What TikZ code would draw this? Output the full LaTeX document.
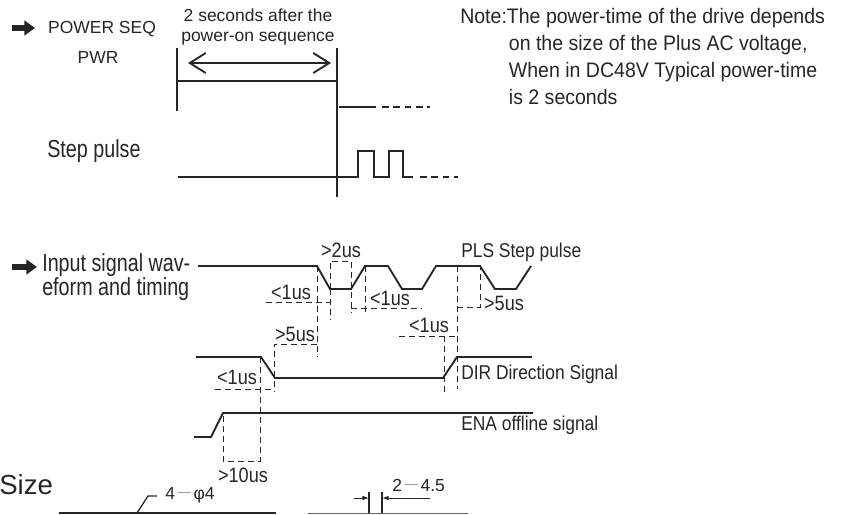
\documentclass[tikz,border=0pt]{standalone}
\usepackage{fontspec}
\setmainfont{Liberation Sans}
\newfontfamily\condfont[FakeStretch=0.87]{Liberation Sans}
\newfontfamily\narrowfont[FakeStretch=0.8]{Liberation Sans}
\newfontfamily\notefont[FakeStretch=0.93]{Liberation Sans}
\newcommand{\dashmark}{\hspace{2pt}\raisebox{1.8pt}{\textcolor{black!45}{\fontsize{10}{10}\selectfont —}}\hspace{2pt}}
\usetikzlibrary{arrows.meta}
\begin{document}
\begin{tikzpicture}
	  [
	    x                       = 0.75pt,
	    y                       = -0.75pt,
	    every node/.style       = {inner sep=0pt, text=black!85},
	    wave/.style             = {draw=black!85, line width=1.4pt},
	    guide/.style            = {draw=black!85, line width=0.7pt, dash pattern=on 4.5pt off 3pt},
	    wave tail/.style        = {draw=black!85, line width=1.1pt, dash pattern=on 5pt off 3.5pt},
	    plain label/.style      = {font=\fontsize{13.1}{14.5}\selectfont},
	    time label/.style       = {font=\condfont\fontsize{15.6}{17}\selectfont},
	    signal label/.style     = {font=\condfont\fontsize{15}{17}\selectfont},
	    big label/.style        = {font=\narrowfont\fontsize{18.5}{17.6}\selectfont},
	    block arrow/.style      = {draw=black!85, line width=5pt, -{Triangle[length=8pt,width=11pt]}}
		]
	  \useasboundingbox (0,0) rectangle (845,514);

	  \draw [block arrow] (12,28) -- (35,28);
	  \node [plain label] (power) at (102,29) {POWER SEQ};
	  \node [plain label] (pwr) at (98,57) {PWR};
	  \node [plain label, align=center] (after) at (258,27) {2 seconds after the\\power-on sequence};
	  \node [big label, anchor=west] (step) at (47,151) {Step pulse};
	  \node [align=left, anchor=north west, font=\notefont\fontsize{15.75}{20.25}\selectfont] (note) at (460,8)
	  	{Note:The power-time of the drive depends\\
	  	\hspace*{36.5pt}on the size of the Plus AC voltage,\\
	  	\hspace*{36.5pt}When in DC48V Typical power-time\\
	  	\hspace*{36.5pt}is 2 seconds};

	  \draw [wave] (177,48) -- (177,111);
	  \draw [wave] (337,48) -- (337,197);
	  \draw [wave] (177,81) -- (337,81);
	  \draw [wave, {Straight Barb[length=12pt,width=15pt]}-{Straight Barb[length=12pt,width=15pt]}] (188,63) -- (331,63);
	  \draw [wave] (339,107) -- (376,107);
	  \draw [wave tail] (382,107) -- (430,107);
	  \draw [wave] (178,177) -- (358,177) -- (358,151) -- (374,151) -- (374,177)
	  	-- (389,177) -- (389,151) -- (403,151) -- (403,177) -- (413,177);
	  \draw [wave tail] (420,177) -- (458,177);

	  \draw [block arrow] (12,267) -- (37,267);
	  \node [big label, anchor=west, align=left] (input) at (42,277) {Input signal wav-\\\hspace*{0pt}eform and timing};
	  \draw [wave] (198,266) -- (317,266) -- (330,289) -- (351,289) -- (365,266) -- (388,266)
	  	-- (402,289) -- (422,289) -- (436,266) -- (480,266) -- (495,289) -- (516,289) -- (531,266);
	  \draw [wave] (196,357) -- (261,357) -- (275,378) -- (443,378) -- (457,357) -- (532,357);
	  \draw [wave] (194,437) -- (211,437) -- (223,413) -- (533,413);

	  \draw [guide] (317,266) -- (317,357);
	  \draw [guide] (266,302) -- (330,302);
	  \draw [guide] (330,289) -- (330,320);
	  \draw [guide] (330,289) -- (330,261) -- (351,261) -- (351,313);
	  \draw [guide] (365,266) -- (365,313);
	  \draw [guide] (351,308) -- (422,308);
	  \draw [guide] (457,266) -- (457,389);
	  \draw [guide] (457,307) -- (480,307) -- (480,266);
	  \draw [guide] (399,336) -- (457,336);
	  \draw [guide] (444,336) -- (444,392);
	  \draw [guide] (317,344) -- (274,344) -- (274,392);
	  \draw [guide] (215,389) -- (275,389);
	  \draw [guide] (260,357) -- (260,461) -- (223,461) -- (223,413);

	  \node [time label] (a) at (341,250) {>2us};
	  \node [time label] (b) at (291,292) {<1us};
	  \node [time label] (c) at (390,298) {<1us};
	  \node [time label] (d) at (429,325) {<1us};
	  \node [time label] (e) at (295,334) {>5us};
	  \node [time label] (f) at (237,377) {<1us};
	  \node [time label] (g) at (504,303) {>5us};
	  \node [time label] (h) at (243,475) {>10us};
	  \node [signal label, anchor=west] (pls) at (461,252) {PLS Step pulse};
	  \node [signal label, anchor=west] (dir) at (461,374) {DIR Direction Signal};
	  \node [signal label, anchor=west] (ena) at (461,425) {ENA offline signal};

	  \node [anchor=west, font=\fontsize{20.7}{22}\selectfont] (size) at (-1,485) {Size};
	  \draw [wave] (59,513) -- (276,513);
	  \draw [draw=black!85, line width=1pt] (137,513) -- (148,496) -- (157,496);
	  \node [plain label, anchor=west] (hole) at (165,495) {4\dashmark φ4};
	  \draw [draw=black!60, line width=0.6pt] (308,513) -- (468,513);
	  \draw [wave] (369,492) -- (369,513);
	  \draw [wave] (382,492) -- (382,513);
	  \draw [draw=black!85, line width=0.7pt, -{Latex[length=5pt,width=3.5pt]}] (354,498) -- (369,498);
	  \draw [draw=black!85, line width=0.7pt, -{Latex[length=5pt,width=3.5pt]}] (430,498) -- (382,498);
	  \node [plain label, anchor=west] (gap) at (392,485) {2\dashmark 4.5};
	\end{tikzpicture}
\end{document}
